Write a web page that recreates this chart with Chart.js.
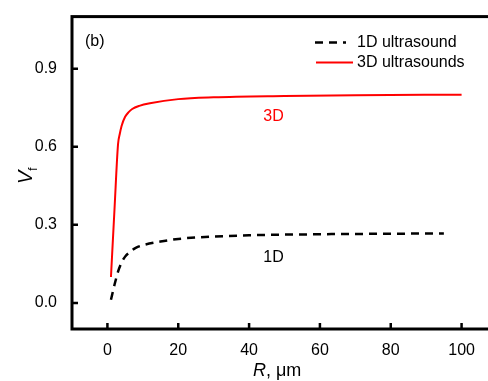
<!DOCTYPE html>
<html>
<head>
<meta charset="utf-8">
<script src="https://cdn.jsdelivr.net/npm/chart.js@4"></script>
<style>
  html, body { margin: 0; padding: 0; background: #fff; overflow: hidden; }
  #wrap { width: 500px; height: 381px; }
</style>
</head>
<body>
<div id="wrap"><canvas id="vf"></canvas></div>
<script>
Chart.defaults.font.family = "Arial, 'Liberation Sans', sans-serif";
Chart.defaults.font.size = 16;
Chart.defaults.color = '#000';

// data
const r3D = [1, 2, 3, 3.5, 4, 5, 6, 7, 9, 12, 20, 30, 50, 70, 100];
const vf3D = [0.10, 0.36, 0.61, 0.65, 0.68, 0.715, 0.733, 0.745, 0.757, 0.767, 0.783, 0.790, 0.795, 0.798, 0.800];
const r1D = [1, 2, 3, 4, 5, 6, 7, 8, 10, 15, 20, 30, 40, 60, 80, 95];
const vf1D = [0.012, 0.07, 0.12, 0.155, 0.178, 0.192, 0.203, 0.212, 0.222, 0.236, 0.246, 0.255, 0.260, 0.264, 0.266, 0.267];

const xTicks = [0, 20, 40, 60, 80, 100];
const yTicks = [0.0, 0.3, 0.6, 0.9];
const legendNames = ['1D ultrasound', '3D ultrasounds'];

const toXY = (xs, ys) => xs.map((x, i) => ({x: x, y: ys[i]}));

// frame, inward ticks, labels, legend, axis titles
const decor = {
  id: 'decor',
  afterDraw(chart) {
    const {ctx, chartArea: a, scales} = chart;
    const xs = scales.x, ys = scales.y;
    ctx.save();
    ctx.strokeStyle = '#000';
    ctx.lineWidth = 3;
    ctx.setLineDash([]);
    ctx.strokeRect(a.left, a.top, a.right - a.left, a.bottom - a.top);

    ctx.lineWidth = 2.5;
    ctx.beginPath();
    xTicks.forEach(v => {
      const px = xs.getPixelForValue(v);
      ctx.moveTo(px, a.bottom);
      ctx.lineTo(px, a.bottom - 6);
    });
    yTicks.forEach(v => {
      const py = ys.getPixelForValue(v);
      ctx.moveTo(a.left, py);
      ctx.lineTo(a.left + 6, py);
    });
    ctx.stroke();

    ctx.font = "16px Arial, 'Liberation Sans', sans-serif";
    ctx.textBaseline = 'middle';
    ctx.textAlign = 'left';
    ctx.fillStyle = '#000';
    ctx.fillText('(b)', a.left + 13, a.top + 25);

    // in-plot labels
    ctx.fillStyle = '#ff0000';
    ctx.fillText('3D', xs.getPixelForValue(44), ys.getPixelForValue(0.717));
    ctx.fillStyle = '#000';
    ctx.fillText('1D', xs.getPixelForValue(44), ys.getPixelForValue(0.174));

    // legend
    const lx = a.left + 243;
    ctx.lineWidth = 2.5;
    ctx.strokeStyle = '#000';
    ctx.setLineDash([8, 6]);
    ctx.beginPath();
    ctx.moveTo(lx, a.top + 26);
    ctx.lineTo(lx + 31, a.top + 26);
    ctx.stroke();
    ctx.setLineDash([]);
    ctx.lineWidth = 2;
    ctx.strokeStyle = '#ff0000';
    ctx.beginPath();
    ctx.moveTo(lx + 1, a.top + 46);
    ctx.lineTo(lx + 38, a.top + 46);
    ctx.stroke();
    ctx.fillStyle = '#000';
    ctx.fillText(legendNames[0], lx + 42, a.top + 26);
    ctx.fillText(legendNames[1], lx + 42, a.top + 46);

    // x title: R, μm
    ctx.textBaseline = 'alphabetic';
    ctx.font = "italic 18px Arial, 'Liberation Sans', sans-serif";
    const tx = 253, ty = 376;
    ctx.fillText('R', tx, ty);
    const rw = ctx.measureText('R').width;
    ctx.font = "18px Arial, 'Liberation Sans', sans-serif";
    ctx.fillText(', μm', tx + rw, ty);

    // y title: V_f (rotated)
    ctx.translate(32, 184);
    ctx.rotate(-Math.PI / 2);
    ctx.font = "italic 20px Arial, 'Liberation Sans', sans-serif";
    ctx.fillText('V', 0, 0);
    const vw = ctx.measureText('V').width;
    ctx.font = "12px Arial, 'Liberation Sans', sans-serif";
    ctx.fillText('f', vw, 5);
    ctx.restore();
  }
};

new Chart(document.getElementById('vf'), {
  type: 'line',
  data: {
    datasets: [
      {
        label: legendNames[0],
        data: toXY(r1D, vf1D),
        borderColor: '#000',
        borderWidth: 2.5,
        borderDash: [8, 6],
        pointRadius: 0,
        cubicInterpolationMode: 'monotone'
      },
      {
        label: legendNames[1],
        data: toXY(r3D, vf3D),
        borderColor: '#ff0000',
        borderWidth: 2,
        pointRadius: 0,
        cubicInterpolationMode: 'monotone'
      }
    ]
  },
  options: {
    responsive: true,
    maintainAspectRatio: false,
    animation: false,
    layout: { padding: { top: 12, right: 3, left: 0, bottom: 0 } },
    plugins: { legend: { display: false }, tooltip: { enabled: false } },
    scales: {
      x: {
        type: 'linear',
        min: -10, max: 110,
        grid: { display: false },
        border: { display: false },
        afterBuildTicks: s => { s.ticks = xTicks.map(v => ({value: v})); },
        afterFit: s => { s.height = 52; },
        ticks: { padding: 4, maxRotation: 0, callback: v => String(v) }
      },
      y: {
        type: 'linear',
        min: -0.1, max: 1.1,
        grid: { display: false },
        border: { display: false },
        afterBuildTicks: s => { s.ticks = yTicks.map(v => ({value: v})); },
        afterFit: s => { s.width = 72; },
        ticks: { padding: 7, callback: v => Number(v).toFixed(1) }
      }
    }
  },
  plugins: [decor]
});
</script>
</body>
</html>
